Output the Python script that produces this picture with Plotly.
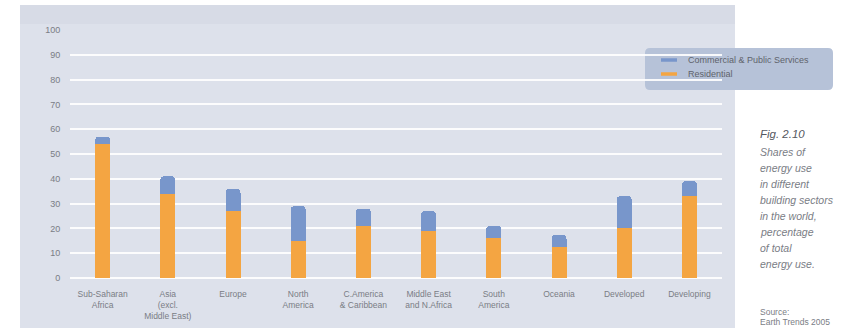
import plotly.graph_objects as go

# Shares of energy use by building sector, percent of total energy use
regions = [
    "Sub-Saharan<br>Africa",
    "Asia<br>(excl.<br>Middle East)",
    "Europe",
    "North<br>America",
    "C.America<br>& Caribbean",
    "Middle East<br>and N.Africa",
    "South<br>America",
    "Oceania",
    "Developed",
    "Developing",
]
residential = [54, 34, 27, 15, 21, 19, 16, 12.5, 20, 33]
commercial = [3, 7, 9, 14, 7, 8, 5, 5, 13, 6]

y_ticks = [0, 10, 20, 30, 40, 50, 60, 70, 80, 90, 100]

caption_title = "Fig. 2.10"
caption_lines = [
    "Shares of", "energy use", "in different", "building sectors",
    "in the world,", "percentage", "of total", "energy use.",
]
source_lines = ["Source:", "Earth Trends 2005"]

ORANGE = "#f4a542"
BLUE = "#7896cb"
PANEL = "#dde1eb"
TEXT = "#7a7d85"

W, H = 855, 328
L, R, T, B = 70, 133, 30, 50
pw, ph = W - L - R, H - T - B


def px_x(x):
    return (x - L) / pw


def px_y(y):
    return (H - B - y) / ph


fig = go.Figure()
fig.add_trace(go.Bar(
    x=regions, y=residential, name="Residential",
    marker=dict(color=ORANGE, line=dict(width=0)), width=0.23,
))
fig.add_trace(go.Bar(
    x=regions, y=commercial, name="Commercial & Public Services",
    marker=dict(color=BLUE, line=dict(width=0), cornerradius=4), width=0.23,
))

shapes = [
    # light panel behind the chart
    dict(type="rect", xref="paper", yref="paper", layer="below",
         x0=px_x(20), x1=px_x(735), y0=px_y(328), y1=px_y(5),
         fillcolor=PANEL, line=dict(width=0)),
    dict(type="rect", xref="paper", yref="paper", layer="below",
         x0=px_x(20), x1=px_x(735), y0=px_y(24), y1=px_y(5),
         fillcolor="#d7dbe6", line=dict(width=0)),
]
# rounded legend box
x0, x1, y0, y1 = px_x(645), px_x(833), px_y(90), px_y(48)
rx, ry = 5 / pw, 5 / ph
path = (f"M {x0+rx},{y0} L {x1-rx},{y0} Q {x1},{y0} {x1},{y0+ry} "
        f"L {x1},{y1-ry} Q {x1},{y1} {x1-rx},{y1} L {x0+rx},{y1} "
        f"Q {x0},{y1} {x0},{y1-ry} L {x0},{y0+ry} Q {x0},{y0} {x0+rx},{y0} Z")
shapes.append(dict(type="path", path=path, xref="paper", yref="paper",
                   fillcolor="#b6c2d8", line=dict(width=0), layer="below"))

annotations = []
# legend entries: short colour bar and series name
for trace, ly in zip(reversed(fig.data), (60, 74)):
    shapes.append(dict(type="line", xref="paper", yref="paper",
                       x0=px_x(661), x1=px_x(677), y0=px_y(ly), y1=px_y(ly),
                       line=dict(color=trace.marker.color, width=3.5)))
    annotations.append(dict(
        text=trace.name, xref="paper", yref="paper",
        x=px_x(686), y=px_y(ly), xanchor="left", yanchor="middle",
        showarrow=False, font=dict(size=9, color="#5f636b"),
    ))

annotations.append(dict(
    text=f"<i>{caption_title}</i>", xref="paper", yref="paper",
    x=px_x(758), y=px_y(134), xanchor="left", yanchor="middle",
    showarrow=False, font=dict(size=11.5, color="#55585f"),
))
for i, line in enumerate(caption_lines):
    annotations.append(dict(
        text=f"<i>{line}</i>", xref="paper", yref="paper",
        x=px_x(758), y=px_y(152 + i * 16), xanchor="left", yanchor="middle",
        showarrow=False, font=dict(size=10.5, color=TEXT),
    ))
for i, line in enumerate(source_lines):
    annotations.append(dict(
        text=line, xref="paper", yref="paper",
        x=px_x(758), y=px_y(312 + i * 10), xanchor="left", yanchor="middle",
        showarrow=False, font=dict(size=8.5, color=TEXT),
    ))

fig.update_layout(
    width=W, height=H,
    margin=dict(l=L, r=R, t=T, b=B, autoexpand=False),
    paper_bgcolor="white",
    plot_bgcolor="rgba(0,0,0,0)",
    barmode="stack",
    font=dict(family="Liberation Sans, Arial, sans-serif", color=TEXT, size=8),
    showlegend=False,
    shapes=shapes,
    annotations=annotations,
    xaxis=dict(
        range=[-0.5, 9.5], showgrid=False, zeroline=False, showline=False,
        ticks="outside", ticklen=8, tickcolor="rgba(0,0,0,0)",
        tickfont=dict(size=8.5, color=TEXT), tickangle=0, automargin=False,
    ),
    yaxis=dict(
        range=[0, 100], tickvals=y_ticks,
        showgrid=True, gridcolor="rgba(255,255,255,0.9)", gridwidth=1.5,
        zeroline=True, zerolinecolor="rgba(255,255,255,0.9)", zerolinewidth=1.5,
        showline=False, ticks="outside", ticklen=7, tickcolor="rgba(0,0,0,0)",
        tickfont=dict(size=9, color=TEXT), automargin=False,
    ),
)

fig.write_html("out.html")
